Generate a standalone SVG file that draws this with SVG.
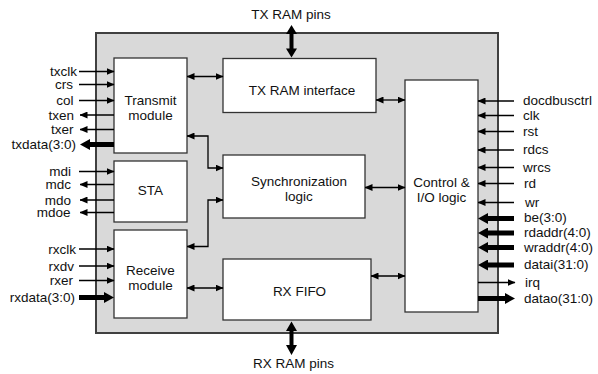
<svg xmlns="http://www.w3.org/2000/svg" width="598" height="374" viewBox="0 0 598 374">
<style>
text{font-family:"Liberation Sans",Arial,sans-serif;font-size:13.5px;fill:#111}
.l{text-anchor:end}
.m{text-anchor:middle}
.box{fill:#fff;stroke:#333;stroke-width:1.3}
.w{fill:none;stroke:#000;stroke-width:1.3}
.t{fill:none;stroke:#000;stroke-width:5}
.in{marker-end:url(#a)}
.bi{marker-start:url(#a);marker-end:url(#a)}
.tin{marker-end:url(#b)}
</style>
<defs>
<marker id="a" markerUnits="userSpaceOnUse" viewBox="0 0 8 7" refX="7.5" refY="3.5" markerWidth="8" markerHeight="7" orient="auto-start-reverse"><path d="M0,0L8,3.5L0,7z" fill="#000"/></marker>
<marker id="b" markerUnits="userSpaceOnUse" viewBox="0 0 10 11" refX="0" refY="5.5" markerWidth="10" markerHeight="11" orient="auto-start-reverse"><path d="M0,0L10,5.5L0,11z" fill="#000"/></marker>
</defs>
<rect id="chip" x="96" y="33" width="402" height="300" fill="#d9d9d9" stroke="#404040" stroke-width="2"/>
<g id="transmit"><rect class="box" x="114" y="58" width="73" height="95"/><text class="m" x="150.5" y="104.5">Transmit</text><text class="m" x="150.5" y="119.5">module</text></g>
<g id="sta"><rect class="box" x="114" y="161" width="73" height="61"/><text class="m" x="150.5" y="195">STA</text></g>
<g id="receive"><rect class="box" x="114" y="230" width="73" height="88"/><text class="m" x="150.5" y="275">Receive</text><text class="m" x="150.5" y="290">module</text></g>
<g id="txram"><rect class="box" x="223" y="58.5" width="153" height="54"/><text class="m" x="302" y="94.5">TX RAM interface</text></g>
<g id="sync"><rect class="box" x="223" y="155" width="142" height="63"/><text class="m" x="299" y="186">Synchronization</text><text class="m" x="299" y="201">logic</text></g>
<g id="rxfifo"><rect class="box" x="223" y="259" width="148" height="61"/><text class="m" x="299.5" y="296">RX FIFO</text></g>
<g id="control"><rect class="box" x="405" y="80" width="73" height="232"/><text class="m" x="441.5" y="187">Control &amp;</text><text class="m" x="441.5" y="201.5">I/O logic</text></g>
<g id="pinlabels">
<text class="m" x="291" y="19">TX RAM pins</text>
<text class="m" x="293.5" y="368">RX RAM pins</text>
<text class="l" x="77" y="76">txclk</text>
<text class="l" x="73" y="88.5">crs</text>
<text class="l" x="73.5" y="105">col</text>
<text class="l" x="74" y="119.5">txen</text>
<text class="l" x="73.5" y="133.5">txer</text>
<text class="l" x="76" y="148.5">txdata(3:0)</text>
<text class="l" x="71" y="176">mdi</text>
<text class="l" x="71" y="188.5">mdc</text>
<text class="l" x="71" y="204.5">mdo</text>
<text class="l" x="70.5" y="216.5">mdoe</text>
<text class="l" x="76" y="253.5">rxclk</text>
<text class="l" x="74" y="270.5">rxdv</text>
<text class="l" x="73" y="285">rxer</text>
<text class="l" x="75" y="302">rxdata(3:0)</text>
<text x="523" y="105">docdbusctrl</text>
<text x="523" y="119.5">clk</text>
<text x="523" y="136">rst</text>
<text x="523" y="154">rdcs</text>
<text x="523" y="172">wrcs</text>
<text x="524" y="187.5">rd</text>
<text x="525" y="207">wr</text>
<text x="524" y="222">be(3:0)</text>
<text x="524" y="237">rdaddr(4:0)</text>
<text x="524" y="251.5">wraddr(4:0)</text>
<text x="524" y="269">datai(31:0)</text>
<text x="525" y="287">irq</text>
<text x="524" y="302.5">datao(31:0)</text>
</g>
<g id="connectors">
<path class="w in" d="M79,71.5H114"/>
<path class="w in" d="M79,84.5H114"/>
<path class="w in" d="M79,100.5H114"/>
<path class="w in" d="M114,115H80"/>
<path class="w in" d="M114,129.5H80"/>
<path class="t tin" d="M114,144.5H90"/>
<path class="w in" d="M79,171.5H114"/>
<path class="w in" d="M114,184.5H80"/>
<path class="w in" d="M114,200H80"/>
<path class="w in" d="M114,212.5H80"/>
<path class="w in" d="M79,249H114"/>
<path class="w in" d="M79,266H114"/>
<path class="w in" d="M79,280.5H114"/>
<path class="t tin" d="M79,297.5H104"/>
<path class="w in" d="M514,101H478"/>
<path class="w in" d="M514,115.5H478"/>
<path class="w in" d="M514,131.5H478"/>
<path class="w in" d="M514,150H478"/>
<path class="w in" d="M514,167.5H478"/>
<path class="w in" d="M514,183.5H478"/>
<path class="w in" d="M514,202.5H478"/>
<path class="t tin" d="M514,218.5H488"/>
<path class="t tin" d="M514,233H488"/>
<path class="t tin" d="M514,247.5H488"/>
<path class="t tin" d="M514,265H488"/>
<path class="w in" d="M478,282.5H515"/>
<path class="t tin" d="M478,298.5H505"/>
<path class="w bi" d="M187,76.5H223"/>
<path class="w bi" d="M376,100H405"/>
<path class="w bi" d="M187,136H208V168H223"/>
<path class="w bi" d="M187,246.5H208V200H223"/>
<path class="w bi" d="M365,187.5H405"/>
<path class="w bi" d="M187,288H223"/>
<path class="w bi" d="M371,276H405"/>
<path d="M291.5,25L297,34H293.5V48.5H297L291.5,57.5L286,48.5H289.5V34H286z" fill="#000"/>
<path d="M291.5,321.5L297,331H293.5V345H297L291.5,355L286,345H289.5V331H286z" fill="#000"/>
</g>
</svg>
